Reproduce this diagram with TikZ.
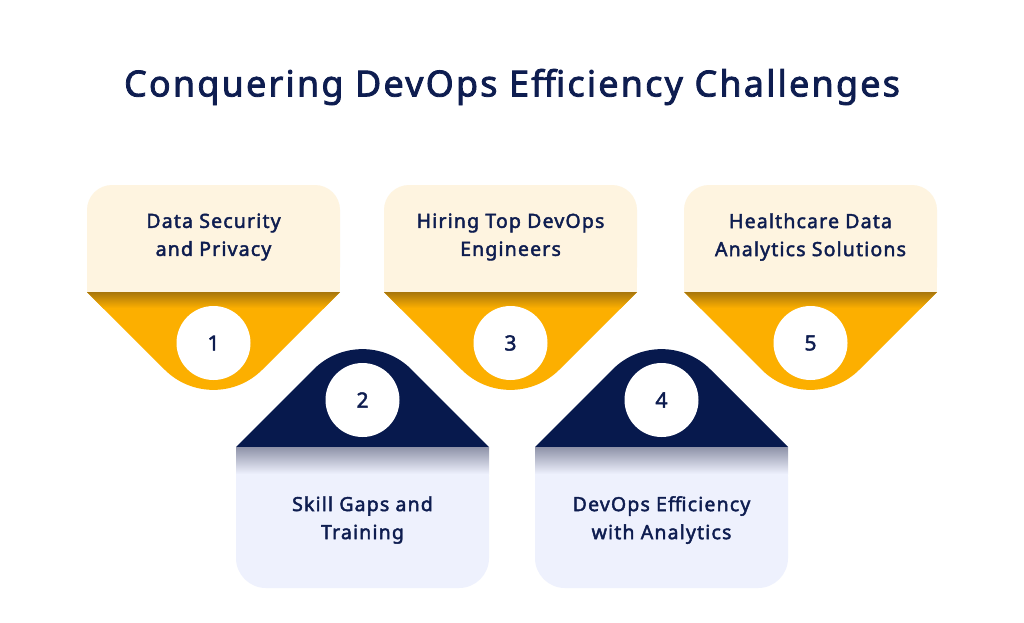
\documentclass[tikz,border=0pt]{standalone}
\usepackage{fontspec}
\setmainfont{Noto Sans}[BoldFont={Noto Sans}, BoldFeatures={FakeBold=2.2, LetterSpace=6}]
\definecolor{cream}{HTML}{FEF4E0}
\definecolor{gold}{HTML}{FCAF00}
\definecolor{golddark}{HTML}{A8760C}
\definecolor{navy}{HTML}{07194D}
\definecolor{lav}{HTML}{EEF1FD}
\definecolor{lavshade}{HTML}{8E92A8}
\definecolor{ink}{HTML}{0E1D50}
\tikzset{
  cardtext/.style={text=ink, font=\fontsize{19.5}{28}\selectfont\bfseries, align=center},
  numcircle/.style={circle, fill=white, minimum size=74pt, inner sep=0pt, text=ink, font=\fontsize{21}{24}\selectfont\bfseries},
  titletext/.style={text=ink, font=\fontsize{36}{40}\selectfont\bfseries}
}
\begin{document}
\begin{tikzpicture}[x=1pt,y=-1pt]
\useasboundingbox (0,0) rectangle (1024,622);
\fill[white] (0,0) rectangle (1024,622);
\node[titletext] (title) at (512,87) {Conquering DevOps Efficiency Challenges};

% top cards
\foreach \cx/\nm/\num/\txt in {213.5/c1/1/{Data Security\\and Privacy}, 510.5/c3/3/{Hiring Top DevOps\\Engineers}, 810.5/c5/5/{Healthcare Data\\Analytics Solutions}}{
  \begin{scope}[shift={(\cx,0)}]
    \fill[cream, rounded corners=25] (-126.5,185) rectangle (126.5,292);
    \fill[cream] (-126.5,250) rectangle (126.5,292);
    \fill[gold] (-126.5,292) -- (-48.8,369.7) .. controls (-21.9,396.6) and (21.9,396.6) .. (48.8,369.7) -- (126.5,292) -- cycle;
    \begin{scope}
      \clip (-126.5,292) -- (-48.8,369.7) .. controls (-21.9,396.6) and (21.9,396.6) .. (48.8,369.7) -- (126.5,292) -- cycle;
      \shade[top color=golddark, bottom color=gold] (-127,292) rectangle (127,308);
    \end{scope}
    \node[cardtext] (\nm-text) at (0,237) {\txt};
    \node[numcircle] (\nm-num) at (0,343) {\num};
  \end{scope}
}

% bottom cards
\foreach \cx/\nm/\num/\txt in {362.5/c2/2/{Skill Gaps and\\Training}, 661.5/c4/4/{DevOps Efficiency\\with Analytics}}{
  \begin{scope}[shift={(\cx,0)}]
    \fill[navy] (-126.5,447) -- (-48.8,369.3) .. controls (-21.9,342.4) and (21.9,342.4) .. (48.8,369.3) -- (126.5,447) -- cycle;
    \fill[lav, rounded corners=30] (-126.5,447) rectangle (126.5,588);
    \fill[lav] (-126.5,447) rectangle (126.5,500);
    \shade[top color=lavshade, bottom color=lav] (-126.5,447) rectangle (126.5,474);
    \node[cardtext] (\nm-text) at (0,520) {\txt};
    \node[numcircle] (\nm-num) at (0,400) {\num};
  \end{scope}
}
\end{tikzpicture}
\end{document}
